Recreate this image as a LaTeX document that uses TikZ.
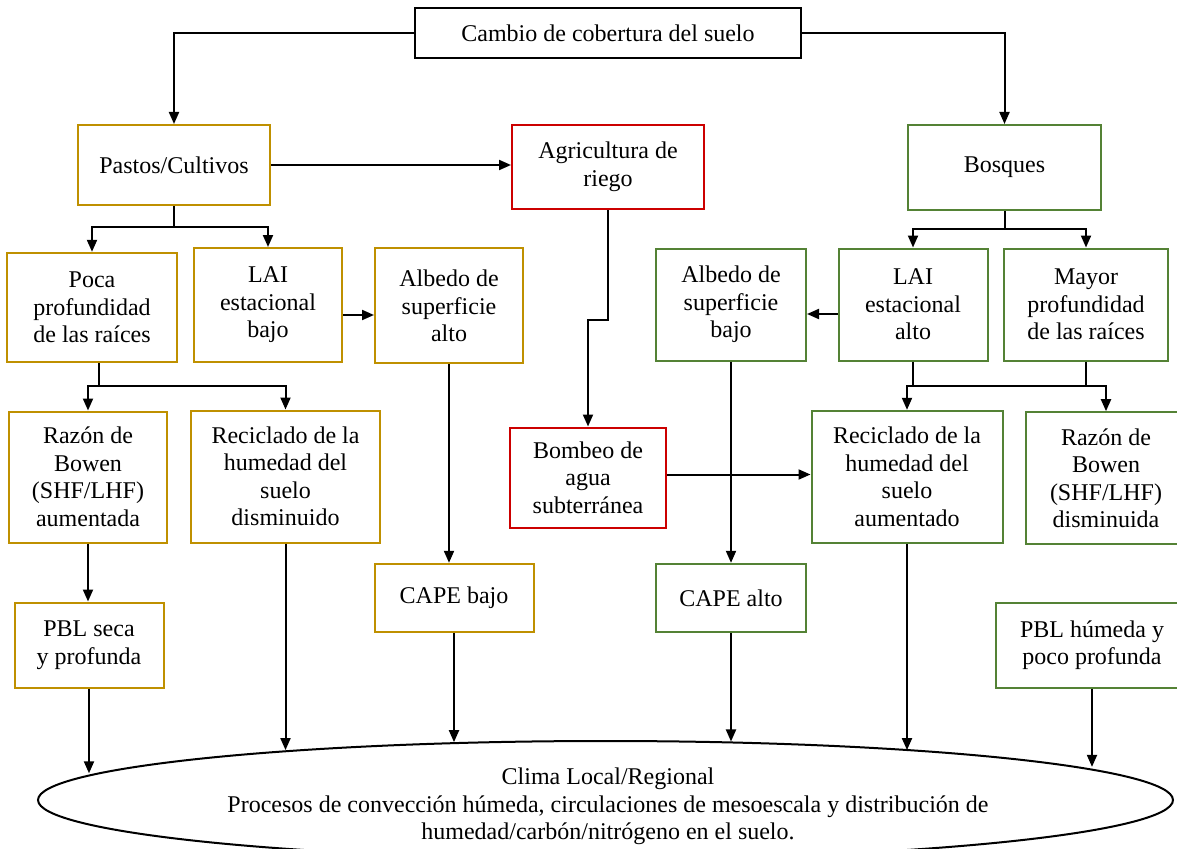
\documentclass[tikz,border=0pt]{standalone}
\usepackage{fontspec}
\setmainfont{Liberation Serif}
\usepackage{tikz}
\usetikzlibrary{arrows.meta,shapes.geometric}

\definecolor{gold}{RGB}{191,144,0}
\definecolor{leaf}{RGB}{84,130,53}
\definecolor{fire}{RGB}{204,0,0}

\begin{document}
\begin{tikzpicture}[x=1pt, y=-1pt, every node/.style={font=\fontsize{24}{27.5}\selectfont, align=center, inner sep=0pt}]
        \tikzset{box/.style 2 args={draw, line width=2pt, minimum width=#1pt, minimum height=#2pt}}
        \tikzset{goldbox/.style={draw=gold}, leafbox/.style={draw=leaf}, firebox/.style={draw=fire}}
        \tikzset{myline/.style={line width=2pt}, myarrow/.style={-{Triangle[length=12pt,width=10pt]}, line width=2pt}}
        \useasboundingbox (0,0) rectangle (1177,848);
        \clip (0,0) rectangle (1177,848);
        \node[box={386}{50}] (cambio) at (608,33.5) {Cambio de cobertura del suelo};
        \node[box={192}{80}, goldbox] (pastos) at (174,165) {Pastos/Cultivos};
        \node[box={192}{84}, firebox] (agri) at (608,167) {Agricultura de\\riego};
        \node[box={193}{85}, leafbox] (bosques) at (1004.5,167.5) {Bosques};
        \node[box={170}{109}, goldbox] (poca) at (92,307.3) {Poca\\profundidad\\de las raíces};
        \node[box={148}{114}, goldbox] (laibajo) at (268,305) {LAI\\estacional\\bajo};
        \node[box={148}{115}, goldbox] (albalto) at (449,305.8) {Albedo de\\superficie\\alto};
        \node[box={150}{112}, leafbox] (albbajo) at (731,304.5) {Albedo de\\superficie\\bajo};
        \node[box={149}{112}, leafbox] (laialto) at (913,304.5) {LAI\\estacional\\alto};
        \node[box={164}{112}, leafbox] (mayor) at (1086,304.5) {Mayor\\profundidad\\de las raíces};
        \node[box={158}{131}, goldbox] (bowenA) at (88,477) {Razón de\\Bowen\\(SHF/LHF)\\aumentada};
        \node[box={189}{132}, goldbox] (recicD) at (285.5,476.5) {Reciclado de la\\humedad del\\suelo\\disminuido};
        \node[box={156}{100}, firebox] (bombeo) at (588,477.5) {Bombeo de\\agua\\subterránea};
        \node[box={191}{132}, leafbox] (recicA) at (907,476.8) {Reciclado de la\\humedad del\\suelo\\aumentado};
        \node[box={160}{132}, leafbox] (bowenD) at (1106,478.2) {Razón de\\Bowen\\(SHF/LHF)\\disminuida};
        \node[box={149}{85}, goldbox] (pblseca) at (89,645) {PBL seca\\y profunda};
        \node[box={159}{68}, goldbox] (capebajo) at (454,597.8) {CAPE bajo};
        \node[box={150}{68}, leafbox] (capealto) at (731,597.8) {CAPE alto};
        \node[box={192}{85}, leafbox] (pblhum) at (1092,645) {PBL húmeda y\\poco profunda};
        \node[draw, ellipse, line width=2pt, minimum width=1135pt, minimum height=118pt] (clima) at (605.5,800) {};
        \node (climatxt) at (608,806.5) {Clima Local/Regional\\Procesos de convección húmeda, circulaciones de mesoescala y distribución de\\humedad/carbón/nitrógeno en el suelo.};
        % top level
        \draw[myarrow] (cambio.west) -| (pastos.north);
        \draw[myarrow] (cambio.east) -| (bosques.north);
        \path (pastos.east) edge[myarrow] (pastos.east -| agri.west);
        % pastos side
        \coordinate (j1) at (174,227);
        \draw[myline] (pastos.south) -- (j1);
        \draw[myarrow] (j1) -| (poca.north);
        \draw[myarrow] (j1) -| (laibajo.north);
        \path ([yshift=-10pt]laibajo.east) edge[myarrow] ([yshift=-10pt]laibajo.east -| albalto.west);
        \coordinate (j2) at (99,386);
        \draw[myline] (j2 |- poca.south) -- (j2);
        \draw[myarrow] (j2) -| (bowenA.north);
        \draw[myarrow] (j2) -| (recicD.north);
        \draw[myarrow] (bowenA.south) -- (bowenA.south |- pblseca.north);
        \draw[myarrow] (albalto.south) -- (albalto.south |- capebajo.north);
        % riego
        \draw[myarrow] (agri.south) -- ++(0,110) -| (bombeo.north);
        \path ([yshift=3pt]bombeo.east) edge[myarrow] ([yshift=3pt]bombeo.east -| recicA.west);
        % bosques side
        \coordinate (j5) at (1004.5,228.7);
        \draw[myline] (bosques.south) -- (j5);
        \draw[myarrow] (j5) -| (laialto.north);
        \draw[myarrow] (j5) -| (mayor.north);
        \path ([yshift=-9.5pt]laialto.west) edge[myarrow] ([yshift=-9.5pt]laialto.west -| albbajo.east);
        \coordinate (j3) at (913,385.7);
        \coordinate (j4) at (1086,385.7);
        \draw[myline] (laialto.south) -- (j3) -- (j4);
        \draw[myline] (mayor.south) -- (j4);
        \draw[myarrow] (j3) -| (recicA.north);
        \draw[myarrow] (j4) -| (bowenD.north);
        \draw[myarrow] (albbajo.south) -- (capealto.north);
        % into the ellipse
        \draw[myarrow] (pblseca.south) -- (pblseca.south |- clima.177);
        \draw[myarrow] (recicD.south) -- (recicD.south |- clima.171);
        \draw[myarrow] (capebajo.south) -- (capebajo.south |- clima.159);
        \draw[myarrow] (capealto.south) -- (capealto.south |- clima.25);
        \draw[myarrow] (recicA.south) -- (recicA.south |- clima.9);
        \draw[myarrow] (pblhum.south) -- (pblhum.south |- clima.4);
      \end{tikzpicture}
\end{document}
